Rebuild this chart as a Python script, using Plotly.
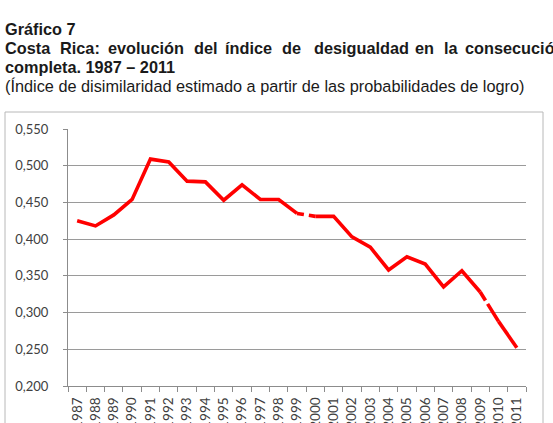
import plotly.graph_objects as go

years = [str(y) for y in range(1987, 2012)]
values = [0.425, 0.418, 0.433, 0.454, 0.509, 0.505, 0.479, 0.478, 0.453, 0.474,
          0.454, 0.454, 0.435, 0.431, 0.431, 0.403, 0.389, 0.358, 0.376, 0.366,
          0.335, 0.357, 0.328, 0.288, 0.252]
y_ticks = [0.20, 0.25, 0.30, 0.35, 0.40, 0.45, 0.50, 0.55]

title1 = "Gráfico 7"
title2_words = ["Costa", "Rica:", "evolución", "del", "índice", "de", "desigualdad", "en", "la", "consecución"]
title2_x = [3, 58, 106, 192, 223, 280, 312, 413, 442, 463]
title3 = "completa. 1987 – 2011"
subtitle = "(Índice de disimilaridad estimado a partir de las probabilidades de logro)"

W, H = 553, 423
L, R, T, B = 68, 27, 129, 37
PW, PH = W - L - R, H - T - B

def px(x):
    return (x - L) / PW

def py(y):
    return (H - B - y) / PH

RED = "#ff0000"
LW = 3.6
segments = [(0, 12, None), (12, 13, "7px,5px,40px"), (13, 22, None), (22, 23, "10px,4px,60px"), (23, 24, None)]

fig = go.Figure()
for a, b, dash in segments:
    fig.add_trace(go.Scatter(
        x=years[a:b + 1], y=values[a:b + 1], mode="lines",
        line=dict(color=RED, width=LW, dash=dash if dash else "solid"),
        showlegend=False, hoverinfo="skip"))

fig.update_layout(
    width=W, height=H,
    margin=dict(l=L, r=R, t=T, b=B, autoexpand=False),
    paper_bgcolor="white", plot_bgcolor="white",
    separators=",.",
    font=dict(family="Lato", size=13, color="#404040"),
)
fig.update_xaxes(
    type="category", categoryorder="array", categoryarray=years,
    range=[-0.5, len(years) - 0.5],
    tickangle=-90, tickson="boundaries", ticks="outside", ticklen=5,
    tickcolor="#8c8c8c", showline=True, linecolor="#8c8c8c", linewidth=1,
    showgrid=False, automargin=False, ticklabelstandoff=5,
    tickfont=dict(family="Lato", size=13.5, color="#404040"),
)
fig.update_yaxes(
    range=[0.2, 0.55], tickvals=y_ticks, tickformat=".3f",
    ticks="outside", ticklen=4, tickcolor="#8c8c8c",
    showline=True, linecolor="#8c8c8c", linewidth=1,
    showgrid=True, gridcolor="#9a9a9a", gridwidth=1,
    zeroline=False, automargin=False, ticklabelstandoff=12,
    tickfont=dict(family="Lato", size=13, color="#404040"),
)

# outer chart border
fig.add_shape(type="rect", xref="paper", yref="paper",
              x0=px(5), x1=px(543), y0=py(440), y1=py(112),
              line=dict(color="#b8b8b8", width=1), fillcolor="rgba(0,0,0,0)", layer="below")

tfont = dict(family="Liberation Sans", size=16.3, color="#1a1a1a")

def ann(text, x, y, bold=False):
    fig.add_annotation(text=("<b>%s</b>" % text) if bold else text,
                       xref="paper", yref="paper", x=px(x), y=py(y),
                       xanchor="left", yanchor="middle", showarrow=False,
                       font=tfont)

ann(title1, 3, 28.5, bold=True)
for w, x in zip(title2_words, title2_x):
    ann(w, x, 47.5, bold=True)
ann(title3, 3, 67, bold=True)
ann(subtitle, 3, 86.5)

fig.write_html("out.html")
